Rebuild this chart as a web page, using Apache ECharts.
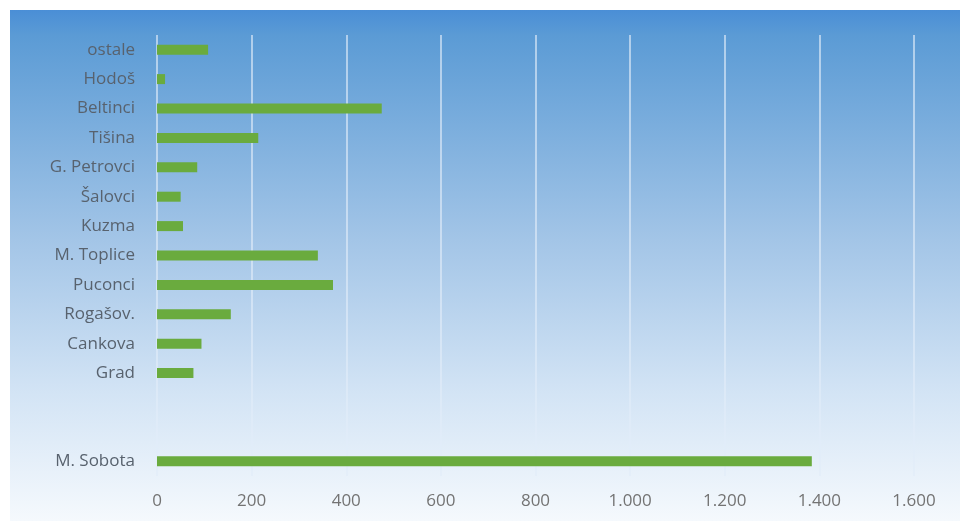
<!DOCTYPE html>
<html>
<head>
<meta charset="utf-8">
<script src="https://cdn.jsdelivr.net/npm/echarts@6/dist/echarts.min.js"></script>
<style>
html,body{margin:0;padding:0;background:#fff;}
#chart{width:960px;height:521px;}
</style>
</head>
<body>
<div id="chart"></div>
<script>
const categories = ['M. Sobota', ' ', '  ', 'Grad', 'Cankova', 'Rogašov.', 'Puconci', 'M. Toplice', 'Kuzma', 'Šalovci', 'G. Petrovci', 'Tišina', 'Beltinci', 'Hodoš', 'ostale'];
const values = [1384, null, null, 77, 94, 156, 372, 340, 55, 50, 85, 214, 475, 17, 108];
const axisMin = 0;
const axisMax = 1600;
const axisStep = 200;

const chart = echarts.init(document.getElementById('chart'));
chart.setOption({
  animation: false,
  backgroundColor: '#ffffff',
  graphic: [{
    type: 'rect',
    z: -10,
    silent: true,
    shape: { x: 10, y: 10, width: 950, height: 511 },
    style: {
      fill: new echarts.graphic.LinearGradient(0, 0, 0, 1, [
        { offset: 0, color: '#4a8ed6' },
        { offset: 0.05, color: '#5b9bd5' },
        { offset: 0.45, color: '#a3c5e7' },
        { offset: 0.75, color: '#d3e4f5' },
        { offset: 1, color: '#f5f9fd' }
      ])
    }
  }],
  grid: { left: 157, right: 46, top: 35, bottom: 45, containLabel: false },
  xAxis: {
    type: 'value',
    min: axisMin,
    max: axisMax,
    interval: axisStep,
    axisLine: { show: false },
    axisTick: { show: false },
    splitLine: { show: true, lineStyle: { color: 'rgba(225,236,248,0.85)', width: 1.5 } },
    axisLabel: {
      color: '#737373',
      fontSize: 17,
      fontFamily: '"Open Sans", sans-serif',
      margin: 17,
      formatter: v => v.toString().replace(/\B(?=(\d{3})+(?!\d))/g, '.')
    }
  },
  yAxis: {
    type: 'category',
    data: categories,
    axisLine: { show: false },
    axisTick: { show: false },
    axisLabel: {
      color: '#58626e',
      fontSize: 17,
      fontFamily: '"Open Sans", sans-serif',
      margin: 22
    }
  },
  series: [{
    type: 'bar',
    data: values,
    barWidth: 10,
    itemStyle: { color: '#6aab3e' }
  }]
});
</script>
</body>
</html>
